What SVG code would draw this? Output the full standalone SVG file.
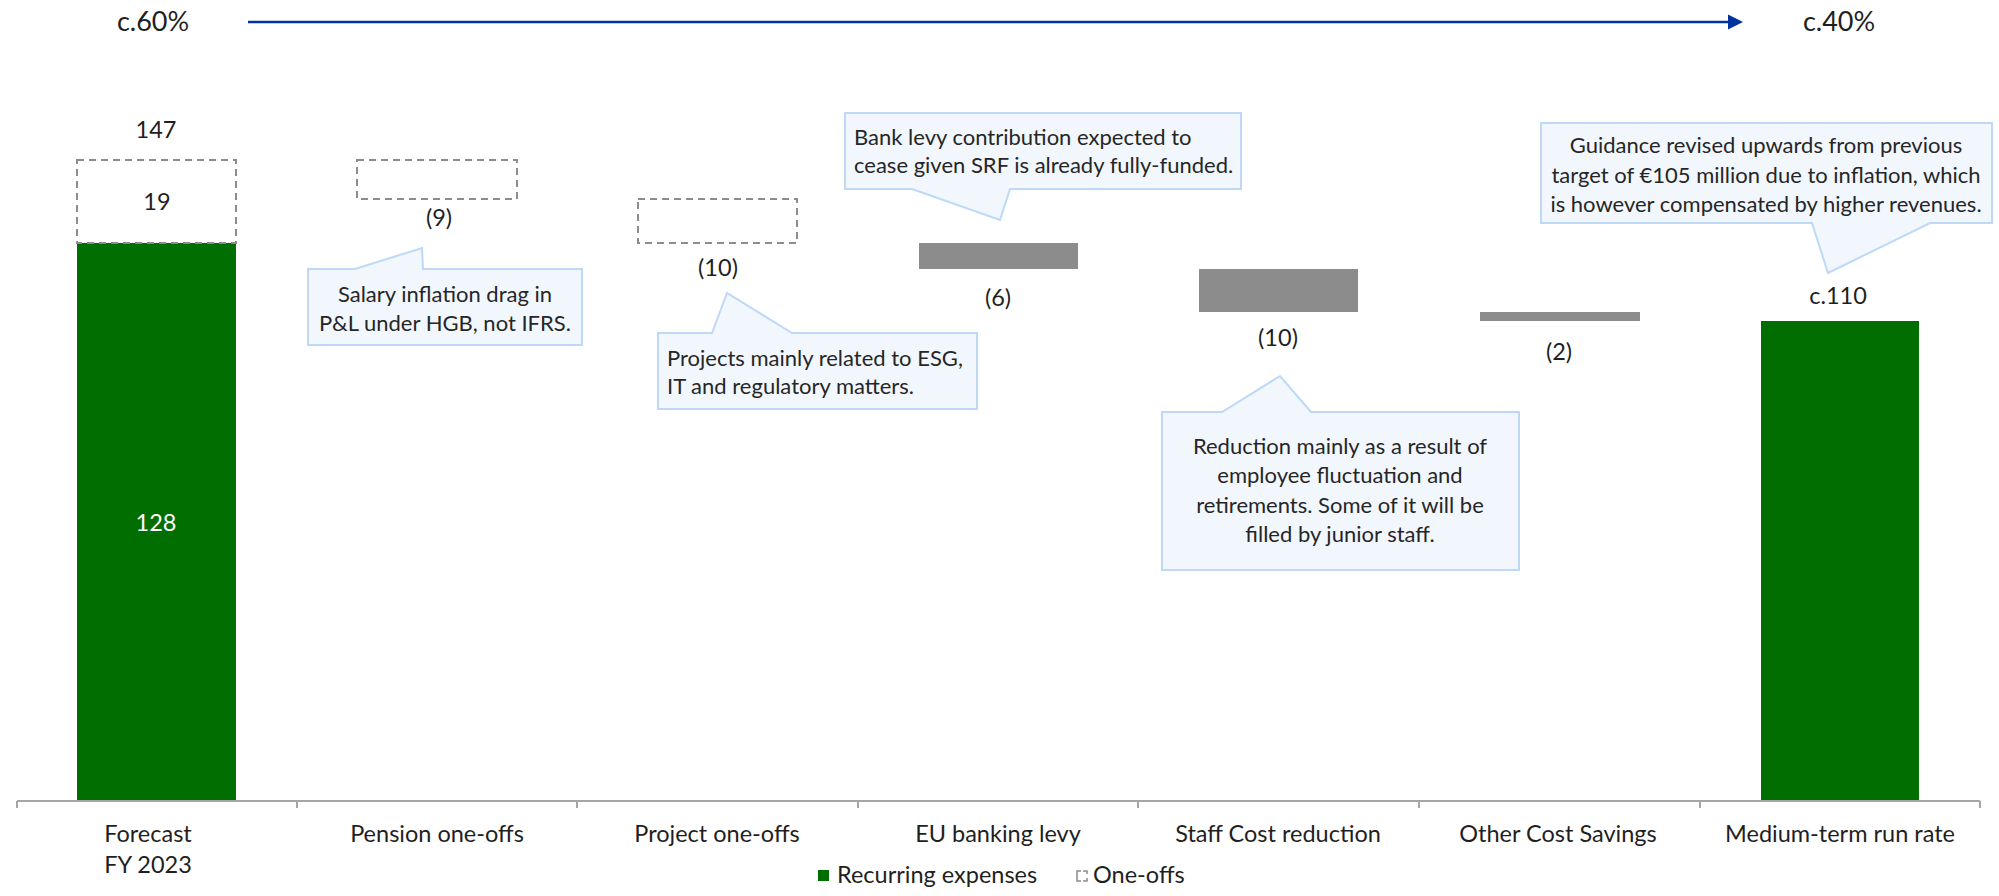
<svg xmlns="http://www.w3.org/2000/svg" width="1999" height="896" viewBox="0 0 1999 896">
<style>
.lbl{font-family:Lato,"Liberation Sans",sans-serif;font-weight:400;font-size:23.5px;fill:#1f1f1f;text-anchor:middle}
.pct{font-family:Lato,"Liberation Sans",sans-serif;font-size:27px;fill:#1f1f1f;text-anchor:middle}
.co{font-family:Lato,"Liberation Sans",sans-serif;font-size:22px;fill:#262626}
.mid{text-anchor:middle}
.callout{fill:#F2F7FE;stroke:#BDD9F7;stroke-width:2}
.green{fill:#006E00}
.grey{fill:#8C8C8C}
.dash{fill:none;stroke:#8C8C8C;stroke-width:2;stroke-dasharray:7 5}
.axis{stroke:#A6A6A6;stroke-width:2;fill:none}
</style>
<defs>
<marker id="arr" markerWidth="16" markerHeight="16" refX="0" refY="8" orient="auto" markerUnits="userSpaceOnUse"><path d="M0,0.5 L15,8 L0,15.5 Z" fill="#0033A0"/></marker>
</defs>
<rect width="1999" height="896" fill="#fff"/>

<g id="connectors">
<line x1="248" y1="22" x2="1728" y2="22" stroke="#0033A0" stroke-width="2.5" marker-end="url(#arr)"/>
</g>

<g id="ratio-start"><text class="pct" x="153" y="31">c.60%</text></g>
<g id="ratio-end"><text class="pct" x="1839" y="31">c.40%</text></g>

<g id="axis">
<path class="axis" d="M17,801 H1980 M17,801 V808 M297,801 V808 M577,801 V808 M858,801 V808 M1138,801 V808 M1419,801 V808 M1700,801 V808 M1980,801 V808"/>
</g>

<g id="bar-forecast">
<rect class="green" x="77" y="243" width="159" height="557"/>
<rect class="dash" x="77" y="160" width="159" height="83"/>
<text class="lbl" x="156" y="138">147</text>
<text class="lbl" x="157" y="210">19</text>
<text class="lbl" x="156" y="531" style="fill:#fff">128</text>
<text class="lbl" x="148" y="842">Forecast</text>
<text class="lbl" x="148" y="873">FY 2023</text>
</g>

<g id="bar-pension">
<rect class="dash" x="357" y="160" width="160" height="39"/>
<text class="lbl" x="439" y="226">(9)</text>
<text class="lbl" x="437" y="842">Pension one-offs</text>
</g>

<g id="bar-project">
<rect class="dash" x="638" y="199" width="159" height="44"/>
<text class="lbl" x="718" y="276">(10)</text>
<text class="lbl" x="717" y="842">Project one-offs</text>
</g>

<g id="bar-levy">
<rect class="grey" x="919" y="243" width="159" height="26"/>
<text class="lbl" x="998" y="306">(6)</text>
<text class="lbl" x="998" y="842">EU banking levy</text>
</g>

<g id="bar-staff">
<rect class="grey" x="1199" y="269" width="159" height="43"/>
<text class="lbl" x="1278" y="346">(10)</text>
<text class="lbl" x="1278" y="842">Staff Cost reduction</text>
</g>

<g id="bar-other">
<rect class="grey" x="1480" y="312" width="160" height="9"/>
<text class="lbl" x="1559" y="360">(2)</text>
<text class="lbl" x="1558" y="842">Other Cost Savings</text>
</g>

<g id="bar-medium">
<rect class="green" x="1761" y="321" width="158" height="479"/>
<text class="lbl" x="1838" y="304">c.110</text>
<text class="lbl" x="1840" y="842">Medium-term run rate</text>
</g>

<g id="callout-salary">
<path class="callout" d="M308,269 L355,269 L422,248 L423,269 L582,269 L582,345 L308,345 Z"/>
<text class="co mid" x="445" y="302">Salary inflation drag in</text>
<text class="co mid" x="445" y="331">P&amp;L under HGB, not IFRS.</text>
</g>

<g id="callout-projects">
<path class="callout" d="M658,333 L712,333 L727,293 L792,333 L977,333 L977,409 L658,409 Z"/>
<text class="co" x="667" y="366">Projects mainly related to ESG,</text>
<text class="co" x="667" y="394">IT and regulatory matters.</text>
</g>

<g id="callout-levy">
<path class="callout" d="M845,113 L1241,113 L1241,189 L1010,189 L1000,220 L912,189 L845,189 Z"/>
<text class="co" x="854" y="145">Bank levy contribution expected to</text>
<text class="co" x="854" y="173">cease given SRF is already fully-funded.</text>
</g>

<g id="callout-staff">
<path class="callout" d="M1162,412 L1222,412 L1280,376 L1311,412 L1519,412 L1519,570 L1162,570 Z"/>
<text class="co mid" x="1340" y="454">Reduction mainly as a result of</text>
<text class="co mid" x="1340" y="483">employee fluctuation and</text>
<text class="co mid" x="1340" y="513">retirements. Some of it will be</text>
<text class="co mid" x="1340" y="542">filled by junior staff.</text>
</g>

<g id="callout-guidance">
<path class="callout" d="M1541,123 L1992,123 L1992,223 L1930,223 L1828,273 L1812,223 L1541,223 Z"/>
<text class="co mid" x="1766" y="153">Guidance revised upwards from previous</text>
<text class="co mid" x="1766" y="183">target of €105 million due to inflation, which</text>
<text class="co mid" x="1766" y="212">is however compensated by higher revenues.</text>
</g>

<g id="legend">
<rect class="green" x="818" y="870" width="11" height="11"/>
<text class="lbl" x="837" y="883" style="text-anchor:start">Recurring expenses</text>
<path d="M1081,871 H1077 V881 H1081 M1083,871 H1087 V874 M1087,878 V881 H1083" fill="none" stroke="#8C8C8C" stroke-width="1.5"/>
<text class="lbl" x="1093" y="883" style="text-anchor:start">One-offs</text>
</g>
</svg>
